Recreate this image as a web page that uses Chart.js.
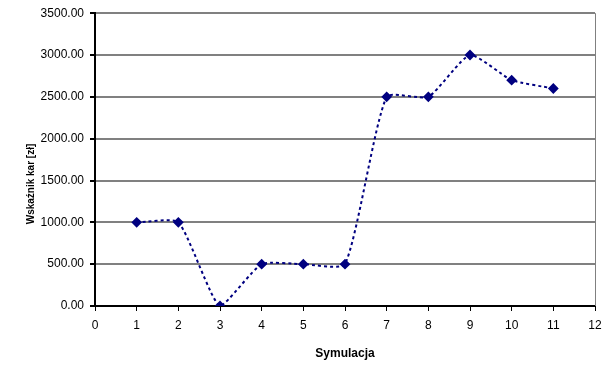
<!DOCTYPE html>
<html>
<head>
<meta charset="utf-8">
<script src="https://cdn.jsdelivr.net/npm/chart.js@4/dist/chart.umd.min.js"></script>
<style>
  html, body { margin: 0; padding: 0; background: #fff; }
  #wrap { width: 616px; height: 375px; }
</style>
</head>
<body>
<div id="wrap"><canvas id="chart" width="616" height="375"></canvas></div>
<script>
// Data
const simulations = [1, 2, 3, 4, 5, 6, 7, 8, 9, 10, 11];
const values = [1000, 1000, 0, 500, 500, 500, 2500, 2500, 3000, 2700, 2600];
const xTitle = 'Symulacja';
const yTitle = 'Wskaźnik kar [zł]';

const FONT = 'Liberation Sans, Arial, sans-serif';

// gray right edge of the plot area + y axis title (sits a bit below centre)
const framePlugin = {
    id: 'frame',
    afterDraw(chart) {
        const { ctx, chartArea: a } = chart;
        ctx.save();
        ctx.strokeStyle = '#808080';
        ctx.lineWidth = 1;
        ctx.beginPath();
        ctx.moveTo(a.right + 0.5, a.top);
        ctx.lineTo(a.right + 0.5, a.bottom);
        ctx.stroke();

        ctx.translate(31, 184);
        ctx.rotate(-Math.PI / 2);
        ctx.fillStyle = '#000';
        ctx.font = 'bold 10px ' + FONT;
        ctx.textAlign = 'center';
        ctx.textBaseline = 'middle';
        ctx.fillText(yTitle, 0, 0);
        ctx.restore();
    }
};

new Chart(document.getElementById('chart'), {
    type: 'line',
    data: {
        datasets: [{
            data: simulations.map((s, i) => ({ x: s, y: values[i] })),
            borderColor: '#000080',
            backgroundColor: '#000080',
            borderWidth: 2,
            borderDash: [3, 3],
            tension: 0.18,
            pointStyle: 'rectRot',
            pointRadius: 4,
            pointHoverRadius: 4,
            fill: false
        }]
    },
    options: {
        responsive: false,
        animation: false,
        layout: { padding: { top: 13, right: 21, left: 0, bottom: 0 } },
        plugins: { legend: { display: false }, tooltip: { enabled: false } },
        scales: {
            x: {
                type: 'linear',
                min: 0,
                max: 12,
                afterFit: (s) => { s.height = 69; },
                ticks: { stepSize: 1, color: '#000', padding: 7, font: { family: FONT, size: 12 } },
                grid: { drawOnChartArea: false, tickLength: 5, tickColor: '#000' },
                border: { color: '#000', width: 2 },
                title: { display: true, text: xTitle, color: '#000', padding: { top: 4, bottom: 14 }, font: { family: FONT, size: 12, weight: 'bold' } }
            },
            y: {
                min: 0,
                max: 3500,
                afterFit: (s) => { s.width = 95; },
                ticks: {
                    stepSize: 500,
                    color: '#000',
                    padding: 6,
                    font: { family: FONT, size: 12 },
                    callback: (v) => v.toFixed(2)
                },
                grid: { color: '#808080', lineWidth: 2, tickLength: 5, tickColor: '#000' },
                border: { color: '#000', width: 2 },
                title: { display: false }
            }
        }
    },
    plugins: [framePlugin]
});
</script>
</body>
</html>
